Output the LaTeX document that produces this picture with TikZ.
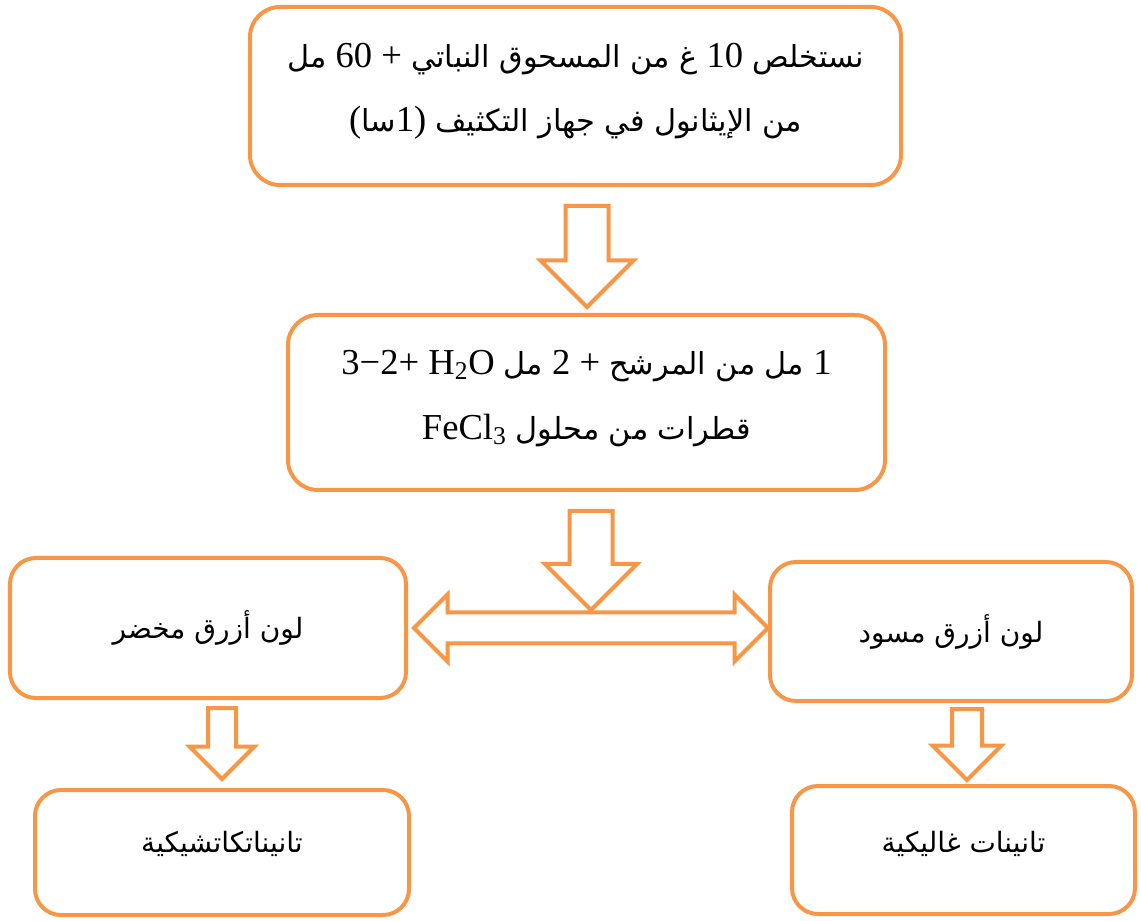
\documentclass[tikz,border=0pt]{standalone}
\usepackage{fontspec}
\setmainfont{Liberation Serif}
\newfontfamily\arabicfont[Script=Arabic,Scale=0.83]{DejaVu Sans}
\TeXXeTstate=1
\usetikzlibrary{calc,shapes.arrows}
\definecolor{boxorange}{HTML}{F79646}
\newcommand{\AR}[1]{{\arabicfont #1}}
\newcommand{\LT}[1]{\beginL #1\endL}

\tikzset{
  stage/.style={draw=boxorange, line width=0.1cm, rounded corners=0.75cm, inner sep=0pt},
  result/.style={stage, rounded corners=0.65cm},
  bigtxt/.style={font=\fontsize{26}{46}\selectfont, align=center},
  smalltxt/.style={font=\fontsize{24}{28}\selectfont},
  downarr/.style={single arrow, draw=boxorange, fill=white, line width=0.1cm, minimum width=0pt, inner xsep=0pt, rotate=-90, anchor=tail},
  sidearr/.style={double arrow, draw=boxorange, fill=white, line width=0.1cm, minimum width=0pt, inner xsep=0pt}
}

\begin{document}
\begin{tikzpicture}
\useasboundingbox (0,0) rectangle (28.525,23);

% extraction and test
\node [stage, minimum width=16.275cm, minimum height=4.45cm,
  label={[bigtxt, yshift=0.12cm]center:{\beginR\AR{نستخلص} \LT{10} \AR{غ من المسحوق النباتي} \LT{+} \LT{60} \AR{مل}\endR\\
   \beginR\AR{من الإيثانول في جهاز التكثيف} \LT{(\AR{سا}1)}\endR}}] at (14.3875,20.6) (extract) {};
\node [stage, minimum width=14.925cm, minimum height=4.375cm,
  label={[bigtxt, yshift=0.1cm]center:{\beginR\LT{1} \AR{مل من المرشح} \LT{+} \LT{2} \AR{مل} \LT{H\textsubscript{2}O} \LT{3−2+}\endR\\
   \beginR\AR{قطرات من محلول} \LT{FeCl\textsubscript{3}}\endR}}] at (14.6625,12.9375) (mixture) {};

% colours
\node [result, minimum width=9.9cm, minimum height=3.5cm,
  label={[smalltxt]center:\beginR\AR{لون أزرق مخضر}\endR}] at (5.2,7.3) (greenish) {};
\node [result, minimum width=9.05cm, minimum height=3.475cm,
  label={[smalltxt]center:\beginR\AR{لون أزرق مسود}\endR}] at (23.775,7.2125) (blackish) {};

% tannins
\node [result, minimum width=9.35cm, minimum height=3.125cm,
  label={[smalltxt, yshift=0.22cm]center:\beginR\AR{تانيناتكاتشيكية}\endR}] at (5.55,1.6875) (catechic) {};
\node [result, minimum width=8.575cm, minimum height=3.2cm,
  label={[smalltxt, yshift=0.15cm]center:\beginR\AR{تانينات غاليكية}\endR}] at (24.0875,1.75) (gallic) {};

% block arrows
\node [downarr, minimum height=2.525cm, inner ysep=0.4875cm, single arrow head extend=0.625cm] at ($(extract.south)+(0.2875,-0.425)$) (a1) {};
\node [downarr, minimum height=2.475cm, inner ysep=0.4875cm, single arrow head extend=0.6125cm] at ($(mixture.south)+(0.1125,-0.425)$) (a2) {};
\node [sidearr, minimum height=8.85cm, inner ysep=0.3375cm, double arrow head extend=0.45cm] at ($($(greenish.east)!0.5!(blackish.west)$)+(0.075,0.044)$) (both) {};
\node [downarr, minimum height=1.775cm, inner ysep=0.3cm, single arrow head extend=0.4625cm] at ($(greenish.south)+(0.35,-0.15)$) (a3) {};
\node [downarr, minimum height=1.775cm, inner ysep=0.325cm, single arrow head extend=0.4875cm] at ($(blackish.south)+(0.4,-0.1)$) (a4) {};

\end{tikzpicture}
\end{document}
